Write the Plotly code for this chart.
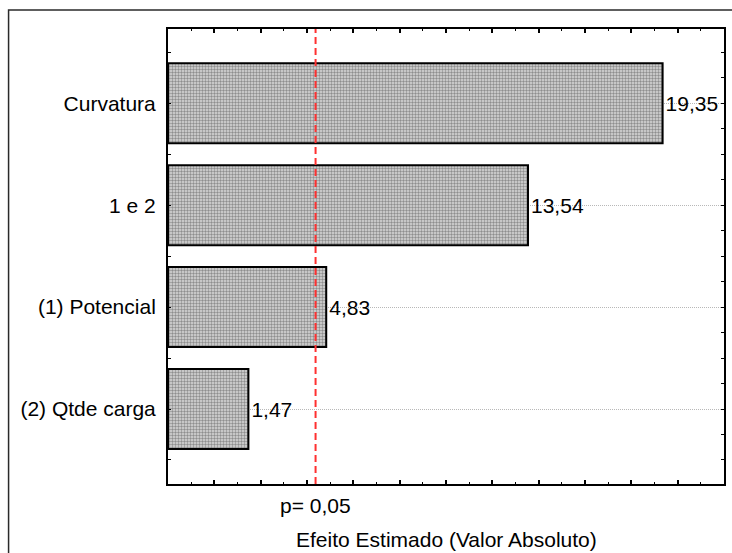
import plotly.graph_objects as go

# Pareto chart of standardized effects
effects = ["Curvatura", "1 e 2", "(1) Potencial", "(2) Qtde carga"]
effect_values = [19.35, 13.54, 4.83, 1.47]
p_limit = 4.37          # critical value for p = 0,05
p_label = "p= 0,05"
x_title = "Efeito Estimado (Valor Absoluto)"

x_min, x_max = -2, 22
positions = list(range(len(effects)))
labels = [f"{v:.2f}".replace(".", ",") for v in effect_values]

FONT = "Liberation Sans, Arial, sans-serif"
W, H = 732, 553
ML, MR, MT, MB = 168, 6, 29, 69
pw, ph = W - ML - MR, H - MT - MB


def px_x(px):
    return (px - ML) / pw


def px_y(py):
    return (H - MB - py) / ph


fig = go.Figure()
fig.add_trace(go.Bar(
    y=positions,
    x=[v - x_min for v in effect_values],
    base=x_min,
    orientation="h",
    width=0.785,
    marker=dict(
        color="#c8c8c8",
        line=dict(color="black", width=2),
        pattern=dict(shape=".", size=3, solidity=0.5,
                     fgcolor="#8e8e8e", bgcolor="#dadada", fillmode="replace"),
    ),
    text=labels,
    textposition="outside",
    textfont=dict(family=FONT, size=21, color="black"),
    constraintext="none",
    cliponaxis=False,
    showlegend=False,
    hoverinfo="skip",
))

# right-hand axis carrying only the fine tick marks
fig.add_trace(go.Scatter(x=[None], y=[None], yaxis="y2", showlegend=False))

yrange = [3.736, -0.729]

fig.update_layout(
    width=W, height=H,
    margin=dict(l=ML, r=MR, t=MT, b=MB, pad=0),
    paper_bgcolor="white",
    plot_bgcolor="white",
    font=dict(family=FONT, size=21, color="black"),
    xaxis=dict(
        range=[x_min, x_max],
        tick0=0, dtick=2,
        ticks="inside", ticklen=4, tickwidth=1.5, tickcolor="black",
        minor=dict(ticks="inside", ticklen=2, tickwidth=1, tickcolor="black", dtick=1, tick0=0),
        showticklabels=False,
        showgrid=False, zeroline=False,
        showline=True, linecolor="black", linewidth=2,
        mirror="ticks",
    ),
    yaxis=dict(
        range=yrange,
        tickmode="array", tickvals=positions, ticktext=effects,
        ticks="inside", ticklen=3, tickwidth=1, tickcolor="black",
        minor=dict(ticks="inside", ticklen=3, tickwidth=1, tickcolor="black", dtick=0.5, tick0=0.5,
                   showgrid=False),
        ticklabelstandoff=6,
        tickfont=dict(family=FONT, size=21, color="black"),
        showgrid=True, gridcolor="#b8b8b8", gridwidth=1, griddash="1px,1px",
        zeroline=False,
        showline=True, linecolor="black", linewidth=2,
        mirror=True,
    ),
    yaxis2=dict(
        overlaying="y", side="right", range=yrange,
        tick0=0, dtick=0.25,
        ticks="inside", ticklen=3, tickwidth=1, tickcolor="black",
        showticklabels=False, showgrid=False, zeroline=False,
        showline=False,
    ),
    shapes=[
        # significance threshold
        dict(type="line", xref="x", yref="paper", x0=p_limit, x1=p_limit, y0=0, y1=1,
             line=dict(color="#ff3030", width=2, dash="7px,4px"), layer="above"),
        # outer frame
        dict(type="rect", xref="paper", yref="paper",
             x0=px_x(8), x1=px_x(735), y0=px_y(560), y1=px_y(10),
             line=dict(color="#2a2a2a", width=1.5), fillcolor="rgba(0,0,0,0)", layer="below"),
    ],
    annotations=[
        dict(text=p_label, xref="x", yref="paper", x=p_limit, y=px_y(505),
             xanchor="center", yanchor="middle", showarrow=False,
             font=dict(family=FONT, size=21, color="black")),
        dict(text=x_title, xref="paper", yref="paper", x=0.5, y=px_y(539),
             xanchor="center", yanchor="middle", showarrow=False,
             font=dict(family=FONT, size=21, color="black")),
    ],
)

fig.write_html("out.html")
